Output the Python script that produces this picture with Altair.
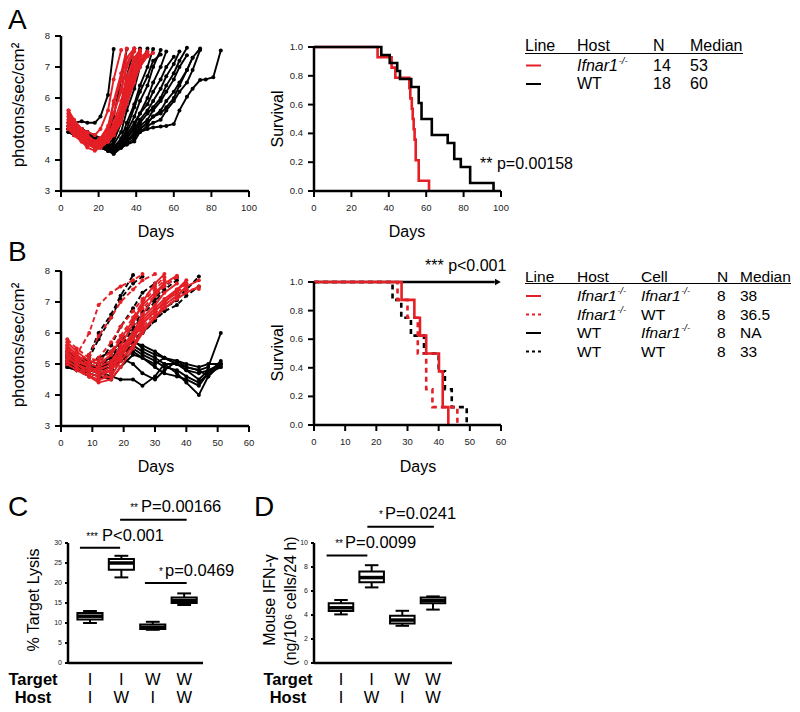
import altair as alt
import pandas as pd

FONT = "Liberation Sans"
RED = "#e41f26"
BLK = "#000000"
O = 8  # page margin

# ---------------- data ----------------
DAYS_A = [4, 7, 11, 14, 18, 21, 25, 28, 32, 35, 39, 42, 46, 49, 53, 56, 60, 63, 67, 70, 74, 77, 81, 85]
A_RED = [
    [5.6, 5.2, 5.0, 4.9, 4.8, 5.0, 5.6, 6.6, 7.55],
    [5.4, 5.1, 4.8, 4.7, 4.5, 4.6, 5.0, 5.9, 6.8, 7.6],
    [5.3, 5.0, 4.7, 4.5, 4.4, 4.5, 4.9, 5.5, 6.3, 7.1, 7.6],
    [5.5, 5.2, 4.9, 4.8, 4.6, 4.7, 4.8, 5.2, 5.9, 6.7, 7.3, 7.55],
    [5.2, 4.9, 4.6, 4.4, 4.3, 4.4, 4.6, 5.0, 5.6, 6.4, 7.0, 7.5],
    [5.1, 4.8, 4.6, 4.5, 4.4, 4.5, 4.6, 4.8, 5.3, 6.0, 6.7, 7.2, 7.45],
    [5.4, 5.0, 4.8, 4.6, 4.5, 4.5, 4.7, 4.9, 5.4, 6.2, 6.9, 7.4],
    [5.0, 4.8, 4.7, 4.6, 4.5, 4.6, 4.7, 5.0, 5.5, 6.1, 6.8, 7.3, 7.5],
    [5.3, 5.1, 4.9, 4.7, 4.6, 4.6, 4.8, 5.1, 5.7, 6.5, 7.2, 7.5],
    [5.2, 4.9, 4.7, 4.5, 4.5, 4.7, 5.1, 5.8, 6.6, 7.3, 7.6],
    [5.5, 5.1, 4.8, 4.6, 4.4, 4.4, 4.6, 4.8, 5.2, 5.8, 6.5, 7.0, 7.35, 7.45],
    [5.0, 4.8, 4.6, 4.5, 4.4, 4.5, 4.7, 4.9, 5.3, 5.9, 6.6, 7.1, 7.4],
    [5.6, 5.3, 5.0, 4.8, 4.6, 4.7, 5.0, 5.5, 6.2, 7.0, 7.5],
    [5.1, 4.9, 4.7, 4.6, 4.5, 4.5, 4.6, 4.9, 5.4, 6.3, 7.0, 7.4],
]
A_BLACK = [
    [5.0, 5.2, 5.25, 5.2, 5.2, 5.4, 6.1, 7.58],
    [4.9, 5.0, 5.0, 4.9, 4.8, 4.7, 4.8, 5.4, 6.6, 7.58],
    [5.1, 5.0, 4.9, 4.8, 4.6, 4.5, 4.6, 4.9, 5.6, 6.7, 7.6],
    [4.9, 4.9, 4.8, 4.7, 4.6, 4.5, 4.4, 4.6, 5.2, 6.0, 6.9, 7.6],
    [5.0, 5.0, 4.9, 4.8, 4.7, 4.5, 4.5, 4.7, 5.4, 6.4, 7.2, 7.55],
    [5.2, 5.1, 5.0, 4.9, 4.7, 4.6, 4.5, 4.5, 4.9, 5.6, 6.3, 7.0, 7.6],
    [4.9, 4.9, 4.8, 4.7, 4.6, 4.5, 4.4, 4.4, 4.7, 5.2, 5.8, 6.4, 7.0, 7.58],
    [5.0, 5.0, 4.9, 4.8, 4.7, 4.6, 4.4, 4.3, 4.5, 4.9, 5.4, 5.9, 6.4, 7.0, 7.55],
    [5.1, 5.0, 4.9, 4.8, 4.7, 4.5, 4.4, 4.4, 4.6, 5.0, 5.7, 6.2, 6.7, 7.2, 7.4],
    [4.9, 4.8, 4.8, 4.7, 4.6, 4.4, 4.3, 4.2, 4.4, 4.7, 5.1, 5.5, 6.0, 6.5, 7.0, 7.5],
    [5.0, 4.9, 4.9, 4.8, 4.7, 4.5, 4.4, 4.3, 4.5, 4.8, 5.2, 5.5, 5.8, 6.2, 6.6, 7.0, 7.33],
    [4.9, 4.9, 4.8, 4.8, 4.6, 4.4, 4.3, 4.3, 4.5, 4.7, 5.0, 5.3, 5.6, 5.9, 6.3, 6.7, 7.1, 7.5],
    [5.0, 5.0, 4.9, 4.8, 4.6, 4.5, 4.3, 4.2, 4.4, 4.6, 4.9, 5.2, 5.5, 5.7, 6.0, 6.4, 6.8, 7.2, 7.62],
    [5.1, 5.0, 4.9, 4.8, 4.7, 4.5, 4.4, 4.3, 4.4, 4.6, 4.8, 5.1, 5.3, 5.6, 5.9, 6.2, 6.6, 7.0, 7.38],
    [5.0, 4.9, 4.8, 4.7, 4.6, 4.5, 4.4, 4.35, 4.4, 4.5, 4.7, 5.0, 5.2, 5.4, 5.6, 5.9, 6.2, 6.5, 6.9, 7.3],
    [4.9, 4.9, 4.8, 4.7, 4.6, 4.5, 4.4, 4.3, 4.4, 4.5, 4.6, 4.9, 5.1, 5.2, 5.3, 5.6, 5.9, 6.2, 6.5, 6.9, 7.55],
    [5.2, 5.1, 5.0, 4.9, 4.7, 4.6, 4.5, 4.4, 4.5, 4.6, 4.8, 5.0, 5.2, 5.4, 5.5, 5.7, 6.0, 6.4, 6.9, 7.3, 7.6],
    [5.0, 4.9, 4.8, 4.8, 4.7, 4.6, 4.5, 4.4, 4.5, 4.6, 4.8, 4.9, 5.0, 5.05, 5.08, 5.1, 5.16, 5.6, 6.04, 6.3, 6.58, 6.6, 6.67, 7.53],
]

DAYS_B = [2, 5, 9, 12, 16, 19, 23, 26, 30, 33, 37, 40, 44, 47, 51]
B_BLACK_SOLID = [
    [5.2, 5.1, 5.0, 5.2, 5.4, 5.7, 5.8, 5.5, 5.3, 5.2, 5.1, 4.9, 4.8, 4.9, 6.0],
    [5.0, 4.9, 4.8, 4.7, 4.6, 4.5, 4.5, 4.3, 4.6, 5.0, 5.0, 4.8, 4.5, 4.8, 5.0],
    [5.1, 5.0, 4.9, 4.9, 5.0, 5.3, 5.6, 5.4, 5.2, 5.0, 4.7, 4.4, 4.0, 4.6, 5.0],
    [5.4, 5.2, 5.1, 5.0, 5.2, 5.5, 5.7, 5.6, 5.4, 5.2, 5.0, 4.8, 4.7, 4.8, 4.9],
    [4.9, 4.8, 4.8, 4.9, 5.1, 5.2, 5.0, 4.7, 4.5, 4.8, 5.1, 5.0, 4.9, 5.0, 5.0],
    [5.3, 5.1, 5.0, 4.9, 5.0, 5.4, 5.5, 5.3, 5.1, 4.9, 4.8, 4.6, 4.4, 4.7, 4.9],
    [5.0, 4.9, 4.7, 4.6, 4.5, 4.9, 5.3, 5.2, 5.0, 5.2, 5.0, 4.9, 4.8, 4.6, 5.0],
    [5.2, 5.0, 4.9, 4.8, 4.9, 5.1, 5.4, 5.2, 4.9, 4.7, 4.6, 4.5, 4.3, 4.7, 5.1],
]
B_BLACK_DASH = [
    [5.2, 5.0, 5.3, 6.0, 6.6, 7.2, 7.87],
    [5.0, 4.9, 5.2, 5.8, 6.5, 7.1, 7.6, 7.82],
    [5.1, 4.9, 4.8, 5.0, 5.6, 6.2, 6.8, 7.3, 7.6],
    [5.3, 5.1, 4.9, 4.8, 5.1, 5.6, 6.1, 6.6, 7.0, 7.4, 7.7],
    [4.9, 4.8, 4.6, 4.5, 4.7, 5.1, 5.6, 6.0, 6.4, 6.8, 7.06],
    [5.2, 5.0, 4.8, 4.7, 4.9, 5.3, 5.7, 6.1, 6.5, 6.8, 7.1, 7.4, 7.82],
    [5.0, 4.8, 4.7, 4.6, 4.8, 5.2, 5.6, 6.0, 6.4, 6.7, 6.9, 7.2, 7.5],
    [5.4, 5.2, 5.0, 4.9, 5.2, 5.7, 6.2, 6.7, 7.1, 7.5, 7.8],
]
B_RED_DASH = [
    [5.5, 5.3, 6.0, 6.9, 7.3, 7.5, 7.7, 7.9],
    [5.3, 5.1, 5.3, 5.9, 6.5, 7.0, 7.4, 7.7, 7.9],
    [5.6, 5.2, 5.0, 5.2, 5.7, 6.2, 6.7, 7.1, 7.5, 7.8],
    [5.2, 5.0, 4.8, 4.9, 5.3, 5.8, 6.3, 6.8, 7.2, 7.5, 7.8],
    [5.4, 5.1, 4.9, 4.8, 5.0, 5.4, 5.9, 6.3, 6.7, 7.0, 7.3, 7.42],
    [5.0, 4.8, 4.6, 4.5, 4.7, 5.1, 5.6, 6.1, 6.5, 6.9, 7.2, 7.4, 7.42],
    [5.8, 5.5, 5.2, 5.1, 5.4, 5.9, 6.5, 7.0, 7.4, 7.7],
    [5.1, 4.9, 4.7, 4.6, 4.8, 5.3, 5.8, 6.2, 6.6, 7.0, 7.3, 7.6],
]
B_RED_SOLID = [
    [5.5, 5.2, 4.9, 4.8, 5.0, 5.6, 6.3, 7.0, 7.6, 7.9],
    [5.3, 5.0, 4.8, 4.7, 4.9, 5.4, 6.0, 6.6, 7.2, 7.6],
    [5.6, 5.3, 5.0, 4.9, 5.1, 5.5, 6.0, 6.5, 6.9, 7.3, 7.6],
    [5.2, 5.0, 4.7, 4.6, 4.8, 5.2, 5.8, 6.3, 6.7, 7.0, 7.4, 7.7],
    [5.4, 5.1, 4.9, 4.7, 4.8, 5.3, 5.9, 6.4, 6.8, 7.1, 7.4, 7.6],
    [5.1, 4.9, 4.6, 4.5, 4.6, 5.1, 5.6, 6.1, 6.5, 6.8, 7.1, 7.3, 7.5],
    [5.7, 5.4, 5.1, 5.0, 5.3, 5.8, 6.4, 6.9, 7.3, 7.6, 7.85],
    [5.0, 4.8, 4.6, 4.4, 4.5, 4.9, 5.5, 6.0, 6.5, 6.9, 7.2, 7.5, 7.7],
]

# Kaplan-Meier steps (time, survival)
KM_A_RED_T = [0, 34, 41.5, 43.5, 51, 51.5, 52.3, 52.8, 53.3, 53.8, 54.4, 56, 61.5]
KM_A_RED_S = [1, .929, .857, .786, .714, .643, .571, .5, .429, .357, .214, .071, 0]
KM_A_BLK_T = [0, 36, 40.5, 44.5, 46, 52, 56, 57.5, 63, 71.5, 75, 78.5, 83.5, 96]
KM_A_BLK_S = [1, .944, .889, .833, .778, .722, .611, .5, .389, .333, .222, .167, .056, 0]
KM_B_RS_T = [0, 28.1, 32.2, 34, 36, 40.1, 41.3, 43.1]
KM_B_RS_S = [1, .875, .75, .625, .5, .375, .125, 0]
KM_B_RD_T = [0, 26.8, 30, 33.3, 36, 38, 46]
KM_B_RD_S = [1, .875, .75, .5, .25, .125, 0]
KM_B_BS_T = [0, 58]
KM_B_BS_S = [1, 1]
KM_B_BD_T = [0, 25.2, 28, 31.1, 35.3, 40, 42, 44.2, 49]
KM_B_BD_S = [1, .875, .75, .625, .5, .375, .25, .125, 0]

# box plots (whisker low, q1, median, q3, whisker high)
C_LO = [10.0, 21.4, 8.3, 14.5]
C_Q1 = [10.9, 23.3, 8.5, 15.0]
C_MED = [11.7, 25.0, 8.9, 15.6]
C_Q3 = [12.5, 26.0, 9.6, 16.4]
C_HI = [13.0, 26.8, 10.3, 17.4]
D_LO = [4.05, 6.3, 3.1, 4.45]
D_Q1 = [4.33, 6.73, 3.3, 4.97]
D_MED = [4.6, 7.12, 3.58, 5.2]
D_Q3 = [4.97, 7.63, 3.94, 5.45]
D_HI = [5.25, 8.15, 4.35, 5.55]
TARGET = ["I", "I", "W", "W"]
HOST = ["I", "W", "I", "W"]
SIG_C = {"a": [0.68, 1.96, 2.75], "b": [1.96, 4.08, 4.08], "y": [28.8, 35.8, 20.0]}
SIG_D = {"a": [0.53, 1.86], "b": [1.86, 4.03], "y": [8.95, 11.35]}

# ---------------- helpers ----------------
layers = []
ONE = pd.DataFrame({"k": [0]})


def scale(domain, p0, p1):
    return alt.Scale(domain=domain, range=[p0 - O, p1 - O], nice=False, zero=False)


def add_text(s, x, y, size=16, align="left", weight="normal", style="normal",
             angle=None, color=BLK, baseline="middle"):
    kw = dict(font=FONT, fontSize=size, align=align, baseline=baseline,
              fontWeight=weight, fontStyle=style, color=color)
    if angle is not None:
        kw["angle"] = angle
    layers.append(alt.Chart(ONE).mark_text(**kw).encode(
        x=alt.value(x - O), y=alt.value(y - O), text=alt.value(s)))


def add_seg(x1, y1, x2, y2, color=BLK, width=1.5, dash=None):
    kw = dict(color=color, strokeWidth=width)
    if dash:
        kw["strokeDash"] = dash
    layers.append(alt.Chart(ONE).mark_rule(**kw).encode(
        x=alt.value(x1 - O), y=alt.value(y1 - O), x2=alt.value(x2 - O), y2=alt.value(y2 - O)))


def x_axis(xs, lo, hi, y_img, ticks=None, labels=None, size=9.5, dy=17, tick=6):
    layers.append(alt.Chart(ONE).mark_rule(color=BLK, strokeWidth=2.5).encode(
        x=alt.X(datum=lo, scale=xs, axis=None), x2=alt.X2(datum=hi), y=alt.value(y_img - O)))
    if ticks:
        df = pd.DataFrame({"v": ticks, "lab": labels})
        layers.append(alt.Chart(df).mark_rule(color=BLK, strokeWidth=2).encode(
            x=alt.X("v:Q", scale=xs, axis=None), y=alt.value(y_img - O), y2=alt.value(y_img - O + tick)))
        layers.append(alt.Chart(df).mark_text(font=FONT, fontSize=size, color="#222", baseline="middle").encode(
            x=alt.X("v:Q", scale=xs, axis=None), y=alt.value(y_img - O + dy), text="lab:N"))


def y_axis(ys, lo, hi, x_img, ticks, labels, size=9.5, dx=11, tick=6):
    layers.append(alt.Chart(ONE).mark_rule(color=BLK, strokeWidth=2.5).encode(
        y=alt.Y(datum=lo, scale=ys, axis=None), y2=alt.Y2(datum=hi), x=alt.value(x_img - O)))
    df = pd.DataFrame({"v": ticks, "lab": labels})
    layers.append(alt.Chart(df).mark_rule(color=BLK, strokeWidth=2).encode(
        y=alt.Y("v:Q", scale=ys, axis=None), x=alt.value(x_img - O - tick), x2=alt.value(x_img - O)))
    layers.append(alt.Chart(df).mark_text(font=FONT, fontSize=size, color="#222", baseline="middle",
                                          align="right").encode(
        y=alt.Y("v:Q", scale=ys, axis=None), x=alt.value(x_img - O - dx), text="lab:N"))


def mouse_curves(series, days, xs, ys, color, prefix, dash=None, width=1.9, dot=16):
    rows = []
    for i, vals in enumerate(series):
        for d, v in zip(days, vals):
            rows.append({"m": f"{prefix}{i}", "d": d, "v": v})
    df = pd.DataFrame(rows)
    kw = dict(color=color, strokeWidth=width)
    if dash:
        kw["strokeDash"] = dash
    enc = dict(x=alt.X("d:Q", scale=xs, axis=None), y=alt.Y("v:Q", scale=ys, axis=None))
    layers.append(alt.Chart(df).mark_line(**kw).encode(detail="m:N", **enc))
    layers.append(alt.Chart(df).mark_circle(color=color, size=dot, opacity=1).encode(**enc))


def km(times, surv, xs, ys, color, dash=None, width=2.6):
    df = pd.DataFrame({"t": times, "s": surv})
    kw = dict(color=color, strokeWidth=width, interpolate="step-after")
    if dash:
        kw["strokeDash"] = dash
    layers.append(alt.Chart(df).mark_line(**kw).encode(
        x=alt.X("t:Q", scale=xs, axis=None), y=alt.Y("s:Q", scale=ys, axis=None)))


def boxes(lo, q1, med, q3, hi, xs, ys):
    df = pd.DataFrame({"pos": [1, 2, 3, 4], "lo": lo, "q1": q1, "med": med, "q3": q3, "hi": hi})
    base = alt.Chart(df).transform_calculate(
        xa="datum.pos - 0.4", xb="datum.pos + 0.4", ca="datum.pos - 0.22", cb="datum.pos + 0.22")
    X = lambda f: alt.X(f + ":Q", scale=xs, axis=None)
    Y = lambda f: alt.Y(f + ":Q", scale=ys, axis=None)
    layers.append(base.mark_rule(color=BLK, strokeWidth=2).encode(x=X("pos"), y=Y("lo"), y2="hi:Q"))
    layers.append(base.mark_rect(fill="white", stroke=BLK, strokeWidth=2).encode(
        x=X("xa"), x2="xb:Q", y=Y("q1"), y2="q3:Q"))
    layers.append(base.mark_rule(color=BLK, strokeWidth=3.5).encode(x=X("xa"), x2="xb:Q", y=Y("med")))
    layers.append(base.mark_rule(color=BLK, strokeWidth=2).encode(x=X("ca"), x2="cb:Q", y=Y("lo")))
    layers.append(base.mark_rule(color=BLK, strokeWidth=2).encode(x=X("ca"), x2="cb:Q", y=Y("hi")))


def sig(d, xs, ys):
    df = pd.DataFrame(d)
    layers.append(alt.Chart(df).mark_rule(color=BLK, strokeWidth=2).encode(
        x=alt.X("a:Q", scale=xs, axis=None), x2="b:Q", y=alt.Y("y:Q", scale=ys, axis=None)))


def ifnar(x, y, size=16):
    add_text("Ifnar1", x, y, size=size, style="italic")
    add_text("-/-", x + 2.56 * size + 0.5, y - 5, size=size * 0.62, style="italic")


# ---------------- panel A ----------------
add_text("A", 8, 21, size=28)
xa = scale([0, 100], 61, 249)
ya = scale([3, 8], 191, 36)
mouse_curves(A_BLACK, DAYS_A, xa, ya, BLK, "ab")
mouse_curves(A_RED, DAYS_A, xa, ya, RED, "ar")
x_axis(xa, 0, 100, 191, [0, 20, 40, 60, 80, 100], ["0", "20", "40", "60", "80", "100"])
y_axis(ya, 3, 8, 61, [3, 4, 5, 6, 7, 8], ["3", "4", "5", "6", "7", "8"])
add_text("Days", 156, 232, size=16, align="center")
add_text("photons/sec/cm²", 19, 105, size=17, align="center", angle=270)

xs_a = scale([0, 100], 314, 501)
ys_a = scale([0, 1], 191, 47)
km(KM_A_RED_T, KM_A_RED_S, xs_a, ys_a, RED)
km(KM_A_BLK_T, KM_A_BLK_S, xs_a, ys_a, BLK)
x_axis(xs_a, 0, 100, 191, [0, 20, 40, 60, 80, 100], ["0", "20", "40", "60", "80", "100"])
y_axis(ys_a, 0, 1, 314, [0, .2, .4, .6, .8, 1], ["0.0", "0.2", "0.4", "0.6", "0.8", "1.0"])
add_text("Days", 407, 232, size=16, align="center")
add_text("Survival", 278, 119, size=16, align="center", angle=270)
add_text("** p=0.00158", 480, 164, size=16)

# table A
for s, x in zip(["Line", "Host", "N", "Median"], [525, 577, 653, 690]):
    add_text(s, x, 45.5)
add_seg(525, 53.5, 743, 53.5, width=1.2)
add_seg(526, 65.5, 541, 65.5, color=RED, width=2)
ifnar(577, 65.5)
add_text("14", 653, 65.5)
add_text("53", 690, 65.5)
add_seg(526, 84, 541, 84, color=BLK, width=2)
add_text("WT", 577, 84)
add_text("18", 653, 84)
add_text("60", 690, 84)

# ---------------- panel B ----------------
add_text("B", 8, 253, size=28)
xb = scale([0, 60], 61, 249)
yb = scale([3, 8], 426, 271)
mouse_curves(B_BLACK_SOLID, DAYS_B, xb, yb, BLK, "bs")
mouse_curves(B_BLACK_DASH, DAYS_B, xb, yb, BLK, "bd", dash=[5, 3])
mouse_curves(B_RED_DASH, DAYS_B, xb, yb, RED, "rd", dash=[5, 3])
mouse_curves(B_RED_SOLID, DAYS_B, xb, yb, RED, "rs")
x_axis(xb, 0, 60, 426, [0, 10, 20, 30, 40, 50, 60], ["0", "10", "20", "30", "40", "50", "60"])
y_axis(yb, 3, 8, 61, [3, 4, 5, 6, 7, 8], ["3", "4", "5", "6", "7", "8"])
add_text("Days", 156, 467, size=16, align="center")
add_text("photons/sec/cm²", 19, 345, size=17, align="center", angle=270)

xs_b = scale([0, 60], 314, 501)
ys_b = scale([0, 1], 425, 282)
km(KM_B_BS_T, KM_B_BS_S, xs_b, ys_b, BLK)
km(KM_B_BD_T, KM_B_BD_S, xs_b, ys_b, BLK, dash=[5, 4])
km(KM_B_RD_T, KM_B_RD_S, xs_b, ys_b, RED, dash=[5, 4])
km(KM_B_RS_T, KM_B_RS_S, xs_b, ys_b, RED)
layers.append(alt.Chart(pd.DataFrame({"t": [59.0], "s": [1.0]})).mark_point(
    shape="triangle-right", filled=True, color=BLK, size=45, opacity=1).encode(
    x=alt.X("t:Q", scale=xs_b, axis=None), y=alt.Y("s:Q", scale=ys_b, axis=None)))
x_axis(xs_b, 0, 60, 425, [0, 10, 20, 30, 40, 50, 60], ["0", "10", "20", "30", "40", "50", "60"])
y_axis(ys_b, 0, 1, 314, [0, .2, .4, .6, .8, 1], ["0.0", "0.2", "0.4", "0.6", "0.8", "1.0"])
add_text("Days", 418, 467, size=16, align="center")
add_text("Survival", 278, 353, size=16, align="center", angle=270)
add_text("*** p<0.001", 425, 266, size=16)

# table B
TB = 15.5
for s, x in zip(["Line", "Host", "Cell", "N", "Median"], [525, 577, 641, 717, 740]):
    add_text(s, x, 276.5, size=TB)
add_seg(525, 283.5, 791, 283.5, width=1.2)
rows_y = [296, 314.5, 333, 351.5]
add_seg(526, rows_y[0], 541, rows_y[0], color=RED, width=2)
add_seg(526, rows_y[1], 541, rows_y[1], color=RED, width=2, dash=[3, 3])
add_seg(526, rows_y[2], 541, rows_y[2], color=BLK, width=2)
add_seg(526, rows_y[3], 541, rows_y[3], color=BLK, width=2, dash=[3, 3])
ifnar(577, rows_y[0], TB); ifnar(641, rows_y[0], TB)
ifnar(577, rows_y[1], TB); add_text("WT", 641, rows_y[1], size=TB)
add_text("WT", 577, rows_y[2], size=TB); ifnar(641, rows_y[2], TB)
add_text("WT", 577, rows_y[3], size=TB); add_text("WT", 641, rows_y[3], size=TB)
for y, med in zip(rows_y, ["38", "36.5", "NA", "33"]):
    add_text("8", 717, y, size=TB)
    add_text(med, 740, y, size=TB)

# ---------------- panel C ----------------
add_text("C", 8, 508, size=28)
xc = scale([0.3, 4.6], 68, 203)
yc = scale([0, 30], 663, 543)
boxes(C_LO, C_Q1, C_MED, C_Q3, C_HI, xc, yc)
sig(SIG_C, xc, yc)
x_axis(xc, 0.3, 4.6, 663)
y_axis(yc, 0, 30, 68, [0, 5, 10, 15, 20, 25, 30], ["0", "5", "10", "15", "20", "25", "30"], size=7, dx=6, tick=3)
add_text("% Target Lysis", 34, 600, size=16, align="center", angle=270)
add_text("***", 98, 540, size=10, align="right", baseline="alphabetic")
add_text("P<0.001", 102, 536, size=16.5)
add_text("**", 138, 511, size=10, align="right", baseline="alphabetic")
add_text("P=0.00166", 141, 507, size=16.5)
add_text("*", 163, 575, size=10, align="right", baseline="alphabetic")
add_text("p=0.0469", 165, 571, size=16.5)
cat_c = pd.DataFrame({"pos": [1, 2, 3, 4], "t": TARGET, "h": HOST})
ROW_T, ROW_H = 680, 697.5
layers.append(alt.Chart(cat_c).mark_text(font=FONT, fontSize=16.5, baseline="middle").encode(
    x=alt.X("pos:Q", scale=xc, axis=None), y=alt.value(ROW_T - O), text="t:N"))
layers.append(alt.Chart(cat_c).mark_text(font=FONT, fontSize=16.5, baseline="middle").encode(
    x=alt.X("pos:Q", scale=xc, axis=None), y=alt.value(ROW_H - O), text="h:N"))
add_text("Target", 33, ROW_T, size=16.5, weight="bold", align="center")
add_text("Host", 33, ROW_H, size=16.5, weight="bold", align="center")

# ---------------- panel D ----------------
add_text("D", 254, 508, size=28)
xd = scale([0.12, 4.62], 314, 452)
yd = scale([0, 10], 663, 543)
boxes(D_LO, D_Q1, D_MED, D_Q3, D_HI, xd, yd)
sig(SIG_D, xd, yd)
x_axis(xd, 0.12, 4.62, 663)
y_axis(yd, 0, 10, 314, [0, 2, 4, 6, 8, 10], ["0", "2", "4", "6", "8", "10"], size=7, dx=6, tick=3)
add_text("Mouse IFN-γ", 270, 600, size=16, align="center", angle=270)
add_text("(ng/10⁶ cells/24 h)", 291, 601, size=16, align="center", angle=270)
add_text("**", 343, 547, size=10, align="right", baseline="alphabetic")
add_text("P=0.0099", 345, 543, size=16.5)
add_text("*", 383, 518, size=10, align="right", baseline="alphabetic")
add_text("P=0.0241", 385, 514, size=16.5)
layers.append(alt.Chart(cat_c).mark_text(font=FONT, fontSize=16.5, baseline="middle").encode(
    x=alt.X("pos:Q", scale=xd, axis=None), y=alt.value(ROW_T - O), text="t:N"))
layers.append(alt.Chart(cat_c).mark_text(font=FONT, fontSize=16.5, baseline="middle").encode(
    x=alt.X("pos:Q", scale=xd, axis=None), y=alt.value(ROW_H - O), text="h:N"))
add_text("Target", 288, ROW_T, size=16.5, weight="bold", align="center")
add_text("Host", 288, ROW_H, size=16.5, weight="bold", align="center")

chart = alt.layer(*layers).resolve_scale(x="independent", y="independent").properties(
    width=784, height=696, padding=0, autosize=alt.AutoSizeParams(type="none")
).configure_view(stroke=None)

chart.save("out.html", embed_options={"renderer": "svg", "actions": False})
